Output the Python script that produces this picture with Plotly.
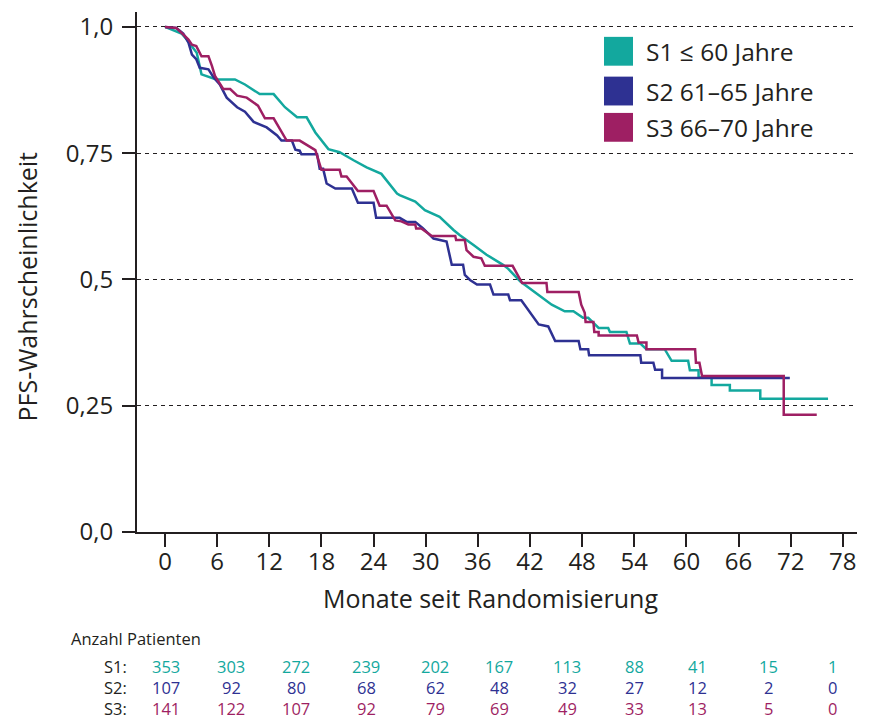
import plotly.graph_objects as go

# ---------------- data ----------------
s1_t = [0, 1.9, 2.5, 3.65, 4.2, 5.9, 8.05, 9.2, 10.9, 12.5, 13.8, 15.2, 16.3, 17.3, 18.8, 20.1, 21.7, 23.2, 24.9, 26.7,
        27.0, 28.8, 29.9, 31.6, 33.2, 33.9, 35.5, 37.0, 38.9, 39.5, 40.9, 42.6, 44.5, 46.0, 47.0, 48.1, 48.7, 49.9, 51.0, 51.2,
        53.1, 53.5, 54.7, 55.4, 57.5, 58.3, 60.2, 60.4, 61.4, 61.4, 62.9, 62.9, 65.0, 65.0, 68.5, 68.5, 76.3]
s1_s = [1.0, 0.987, 0.975, 0.949, 0.906, 0.896, 0.896, 0.886, 0.867, 0.867, 0.841, 0.821, 0.821, 0.791, 0.758, 0.752, 0.736, 0.722, 0.709, 0.670,
        0.667, 0.654, 0.637, 0.624, 0.598, 0.588, 0.568, 0.549, 0.529, 0.521, 0.496, 0.475, 0.450, 0.437, 0.437, 0.424, 0.424, 0.404, 0.404, 0.396,
        0.396, 0.373, 0.373, 0.362, 0.362, 0.339, 0.339, 0.320, 0.320, 0.306, 0.306, 0.291, 0.291, 0.280, 0.280, 0.264, 0.264]

s2_t = [0, 1.3, 2.1, 2.7, 3.1, 3.6, 4.0, 5.0, 5.6, 6.3, 7.1, 8.3, 9.2, 10.2, 11.7, 12.9, 13.4, 14.6, 15.0, 15.5,
        15.7, 17.5, 17.8, 18.2, 18.6, 19.6, 21.5, 22.2, 24.0, 24.3, 27.0, 27.8, 28.8, 29.7, 30.9, 32.4, 33.0, 34.3, 34.5, 35.1,
        35.9, 37.4, 37.8, 39.5, 39.7, 41.0, 43.0, 44.1, 44.9, 47.6, 47.8, 48.7, 48.8, 54.7, 54.8, 56.2, 56.4, 57.2, 57.2, 71.9]
s2_s = [1.0, 0.998, 0.987, 0.969, 0.945, 0.936, 0.919, 0.916, 0.900, 0.886, 0.860, 0.841, 0.832, 0.812, 0.801, 0.785, 0.775, 0.775, 0.757, 0.755,
        0.748, 0.748, 0.719, 0.719, 0.690, 0.680, 0.680, 0.652, 0.652, 0.622, 0.622, 0.614, 0.614, 0.601, 0.581, 0.575, 0.529, 0.529, 0.509, 0.499,
        0.490, 0.490, 0.470, 0.470, 0.459, 0.459, 0.411, 0.407, 0.378, 0.378, 0.362, 0.362, 0.350, 0.350, 0.335, 0.335, 0.321, 0.321, 0.305, 0.305]

s3_t = [0, 1.3, 2.1, 2.7, 3.1, 3.6, 4.2, 5.0, 5.4, 5.75, 6.7, 7.5, 8.3, 9.4, 10.7, 11.5, 12.5, 13.4, 14.0, 15.5,
        17.3, 18.0, 20.1, 20.3, 20.9, 22.2, 24.0, 24.7, 25.5, 26.5, 27.2, 28.0, 28.8, 28.9, 29.5, 30.7, 33.4, 33.5, 34.5, 34.7,
        35.5, 36.4, 36.8, 40.0, 41.1, 43.9, 44.0, 47.6, 47.9, 48.3, 48.4, 49.3, 49.4, 49.9, 49.9, 54.3, 54.5, 55.4, 55.4, 61.0,
        61.1, 61.5, 61.8, 71.2, 71.2, 75.0]
s3_s = [1.0, 0.998, 0.985, 0.975, 0.965, 0.962, 0.942, 0.942, 0.923, 0.903, 0.877, 0.877, 0.864, 0.860, 0.844, 0.819, 0.819, 0.791, 0.775, 0.775,
        0.756, 0.717, 0.717, 0.704, 0.704, 0.675, 0.675, 0.646, 0.646, 0.617, 0.615, 0.609, 0.609, 0.601, 0.601, 0.586, 0.586, 0.578, 0.578, 0.558,
        0.545, 0.542, 0.527, 0.527, 0.493, 0.493, 0.475, 0.475, 0.450, 0.434, 0.416, 0.416, 0.396, 0.396, 0.389, 0.389, 0.375, 0.375, 0.362, 0.362,
        0.335, 0.335, 0.309, 0.309, 0.232, 0.232]

series_names = ["S1 \u2264 60 Jahre", "S2 61\u201365 Jahre", "S3 66\u201370 Jahre"]
row_labels = ["S1:", "S2:", "S3:"]
risk_s1 = [353, 303, 272, 239, 202, 167, 113, 88, 41, 15, 1]
risk_s2 = [107, 92, 80, 68, 62, 48, 32, 27, 12, 2, 0]
risk_s3 = [141, 122, 107, 92, 79, 69, 49, 33, 13, 5, 0]

x_ticks = list(range(0, 79, 6))
y_ticks = [0, 0.25, 0.5, 0.75, 1.0]
y_ticklabels = ["0,0", "0,25", "0,5", "0,75", "1,0"]

# ---------------- style ----------------
colors = ["#13a89e", "#2e3192", "#9e1f63"]
txt = "#231f20"
FONT = "Open Sans, Liberation Sans, sans-serif"
W, H = 872, 721
L, R, T, B = 137, 857, 9, 532

def px(p):
    return (p - L) / (R - L)

def py(p):
    return (B - p) / (B - T)

fig = go.Figure()
for t, s, c in zip([s1_t, s2_t, s3_t], [s1_s, s2_s, s3_s], colors):
    fig.add_trace(go.Scatter(x=t, y=s, mode="lines", line=dict(color=c, width=2.5),
                             showlegend=False, hoverinfo="skip"))

PPM = 8.69   # pixels per month
PPU = 508.0  # pixels per unit probability
x0 = -(165 - L) / PPM
x1 = x0 + (R - L) / PPM
y1 = (B - T) / PPU

fig.update_layout(
    width=W, height=H,
    margin=dict(l=L, r=W - R, t=T, b=H - B, pad=0),
    plot_bgcolor="white", paper_bgcolor="white",
    font=dict(family=FONT, color=txt),
)
fig.update_xaxes(range=[x0, x1], tickvals=x_ticks, ticks="outside", ticklen=13, tickwidth=2,
                 tickcolor=txt, showline=True, linecolor=txt, linewidth=2, showgrid=False,
                 zeroline=False, tickfont=dict(size=24, family=FONT, color=txt), ticklabelstandoff=-6)
fig.update_yaxes(range=[0, y1], tickvals=y_ticks, ticktext=y_ticklabels, ticks="outside", ticklen=13,
                 tickwidth=2, tickcolor=txt, showline=True, linecolor=txt, linewidth=2,
                 showgrid=True, gridcolor="#231f20", gridwidth=1.4, griddash="4px,4px",
                 zeroline=False, tickfont=dict(size=24, family=FONT, color=txt), ticklabelstandoff=4)

ann = []
ann.append(dict(x=px(490), y=py(598), xref="paper", yref="paper", text="Monate seit Randomisierung",
                showarrow=False, font=dict(size=25, family=FONT, color=txt), xanchor="center", yanchor="middle"))
ann.append(dict(x=px(27), y=py(285), xref="paper", yref="paper", text="PFS-Wahrscheinlichkeit",
                showarrow=False, textangle=-90, font=dict(size=25, family=FONT, color=txt),
                xanchor="center", yanchor="middle"))

# legend (manual)
shapes = []
leg_y = [48.5, 88.5, 125]
for name, c, yc in zip(series_names, colors, leg_y):
    shapes.append(dict(type="rect", xref="paper", yref="paper", x0=px(604), x1=px(633),
                       y0=py(yc + 14.5), y1=py(yc - 14.5), fillcolor=c, line=dict(width=0)))
    ann.append(dict(x=px(644), y=py(yc), xref="paper", yref="paper", text=name, showarrow=False,
                    xanchor="left", yanchor="middle", font=dict(size=24.5, family=FONT, color=txt)))

# risk table
ann.append(dict(x=px(69), y=py(639), xref="paper", yref="paper", text="Anzahl Patienten", showarrow=False,
                xanchor="left", yanchor="middle", font=dict(size=16.5, family=FONT, color=txt)))
risk_cols_px = [166, 231, 296, 366, 435, 499, 567, 634, 697, 768, 832]
row_y = [667, 688, 710]
for lab, vals, c, ry in zip(row_labels, [risk_s1, risk_s2, risk_s3], colors, row_y):
    ann.append(dict(x=px(129), y=py(ry), xref="paper", yref="paper", text=lab, showarrow=False,
                    xanchor="right", yanchor="middle", font=dict(size=16.5, family=FONT, color=txt)))
    for xp, v in zip(risk_cols_px, vals):
        ann.append(dict(x=px(xp), y=py(ry), xref="paper", yref="paper", text=str(v), showarrow=False,
                        xanchor="center", yanchor="middle", font=dict(size=16.5, family=FONT, color=c)))

fig.update_layout(annotations=ann, shapes=shapes)
fig.write_html("out.html", config={"displayModeBar": False},
               post_script="document.body.style.margin='0px';document.body.style.padding='0px';")
